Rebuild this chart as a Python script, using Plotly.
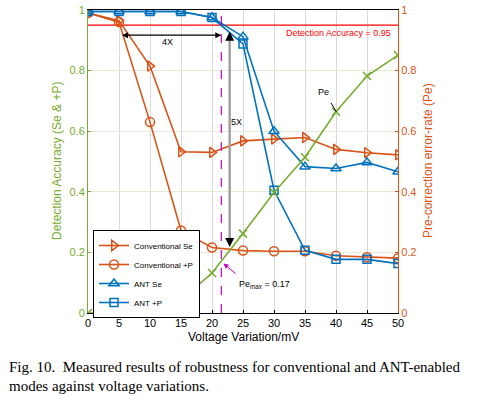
import plotly.graph_objects as go

voltage = [0, 5, 10, 15, 20, 25, 30, 35, 40, 45, 50]
conv_se = [0.99, 0.965, 0.815, 0.532, 0.530, 0.568, 0.574, 0.579, 0.540, 0.529, 0.522]
conv_p = [0.99, 0.96, 0.63, 0.272, 0.216, 0.206, 0.204, 0.204, 0.189, 0.184, 0.181]
ant_se = [0.995, 0.995, 0.995, 0.995, 0.975, 0.912, 0.600, 0.483, 0.477, 0.497, 0.466]
ant_p = [0.995, 0.995, 0.995, 0.995, 0.975, 0.888, 0.405, 0.207, 0.177, 0.177, 0.163]
pe = [0.0, 0.0, 0.005, 0.043, 0.132, 0.262, 0.398, 0.514, 0.664, 0.782, 0.851]

x_ticks = [0, 5, 10, 15, 20, 25, 30, 35, 40, 45, 50]
y_ticks = [0, 0.2, 0.4, 0.6, 0.8, 1]
y_ticklabels = ["0", "0.2", "0.4", "0.6", "0.8", "1"]

threshold = 0.95
dashed_x = 21.5
arrow_x = 22.85

BLUE = "#0072BD"
ORANGE = "#D95319"
GREEN = "#77AC30"
MAGENTA = "#BF00BF"

# plot area geometry in pixels
L, R, T, B = 88, 88, 10, 83
PW, PH = 486 - L - R, 396 - T - B


def px_x(px):
    return (px - L) / PW


def px_y(py):
    return (396 - B - py) / PH


fig = go.Figure()

fig.add_trace(go.Scatter(x=[0, 50], y=[threshold, threshold], mode="lines",
                         line=dict(color="#FF0000", width=1.2), showlegend=False, hoverinfo="skip"))

fig.add_trace(go.Scatter(x=voltage, y=conv_se, name="Conventional Se", mode="lines+markers",
                         line=dict(color=ORANGE, width=1.6),
                         marker=dict(symbol="triangle-right-open", size=9, color=ORANGE, line=dict(width=1.5))))
fig.add_trace(go.Scatter(x=voltage, y=conv_p, name="Conventional +P", mode="lines+markers",
                         line=dict(color=ORANGE, width=1.6),
                         marker=dict(symbol="circle-open", size=9, color=ORANGE, line=dict(width=1.5))))
fig.add_trace(go.Scatter(x=voltage, y=ant_se, name="ANT Se", mode="lines+markers",
                         line=dict(color=BLUE, width=1.6),
                         marker=dict(symbol="triangle-up-open", size=9, color=BLUE, line=dict(width=1.5))))
fig.add_trace(go.Scatter(x=voltage, y=ant_p, name="ANT +P", mode="lines+markers",
                         line=dict(color=BLUE, width=1.6),
                         marker=dict(symbol="square-open", size=8, color=BLUE, line=dict(width=1.5))))
fig.add_trace(go.Scatter(x=voltage, y=pe, name="Pe", mode="lines+markers", yaxis="y2",
                         line=dict(color=GREEN, width=1.6), showlegend=False,
                         marker=dict(symbol="x-thin-open", size=8, color=GREEN, line=dict(width=1.5, color=GREEN))))

# dashed vertical line
fig.add_shape(type="line", x0=dashed_x, x1=dashed_x, y0=0, y1=1, xref="x", yref="y",
              line=dict(color=MAGENTA, width=1.2, dash="dash"))
# gray 5X shaft
fig.add_shape(type="line", x0=arrow_x, x1=arrow_x, y0=0.24, y1=0.905, xref="x", yref="y",
              line=dict(color="#A0A0A0", width=2.5))

lab_font = dict(size=9, color="black", family="Liberation Sans")
ann = []
# 4X double arrow
ann.append(dict(x=dashed_x, y=0.917, ax=5, ay=0.917, xref="x", yref="y", axref="x", ayref="y",
                showarrow=True, arrowhead=2, arrowside="end+start", arrowsize=1, arrowwidth=1.2,
                arrowcolor="black", text=" "))
ann.append(dict(x=12.8, y=0.895, xref="x", yref="y", text="4X", showarrow=False, font=lab_font))
# 5X arrowheads
ann.append(dict(x=arrow_x, y=0.928, ax=arrow_x, ay=0.88, xref="x", yref="y", axref="x", ayref="y",
                showarrow=True, arrowhead=2, arrowsize=1.2, arrowwidth=1.5, arrowcolor="black", text=" "))
ann.append(dict(x=arrow_x, y=0.218, ax=arrow_x, ay=0.265, xref="x", yref="y", axref="x", ayref="y",
                showarrow=True, arrowhead=2, arrowsize=1.2, arrowwidth=1.5, arrowcolor="black", text=" "))
ann.append(dict(x=24.0, y=0.63, xref="x", yref="y", text="5X", showarrow=False, font=lab_font))
# Detection accuracy label
ann.append(dict(x=49.2, y=0.925, xref="x", yref="y", text="Detection Accuracy = 0.95", showarrow=False,
                xanchor="right", font=dict(size=9, color="#FF0000", family="Liberation Sans")))
# Pe label with line
ann.append(dict(x=40.05, y=0.664, ax=38.7, ay=0.71, xref="x", yref="y2", axref="x", ayref="y2",
                showarrow=True, arrowhead=0, arrowwidth=1, arrowcolor="black", text=" "))
ann.append(dict(x=38.0, y=0.73, xref="x", yref="y2", text="Pe", showarrow=False, font=lab_font))
# Pe_max arrow
ann.append(dict(x=21.85, y=0.163, ax=24.3, ay=0.122, xref="x", yref="y", axref="x", ayref="y",
                showarrow=True, arrowhead=2, arrowsize=1, arrowwidth=1, arrowcolor=MAGENTA, text=" "))
ann.append(dict(x=24.0, y=0.095, xref="x", yref="y", text="Pe<sub>max</sub> = 0.17", showarrow=False,
                xanchor="left", font=lab_font))
# axis titles
ann.append(dict(x=px_x(243), y=px_y(337), xref="paper", yref="paper", text="Voltage Variation/mV",
                xanchor="center", yanchor="middle",
                showarrow=False, font=dict(size=12, color="black", family="Liberation Sans")))
ann.append(dict(x=px_x(57), y=px_y(161), xref="paper", yref="paper", text="Detection Accuracy (Se & +P)",
                xanchor="center", yanchor="middle",
                showarrow=False, textangle=-90, font=dict(size=12, color=GREEN, family="Liberation Sans")))
ann.append(dict(x=px_x(428), y=px_y(161), xref="paper", yref="paper", text="Pre-correction error-rate (Pe)",
                xanchor="center", yanchor="middle",
                showarrow=False, textangle=-90, font=dict(size=12, color=ORANGE, family="Liberation Sans")))
# caption
cap_font = dict(size=15, color="black", family="Liberation Serif")
ann.append(dict(x=px_x(7), y=px_y(367), xref="paper", yref="paper",
                text="Fig. 10.  Measured results of robustness for conventional and ANT-enabled",
                showarrow=False, xanchor="left", yanchor="middle", font=cap_font))
ann.append(dict(x=px_x(7), y=px_y(386), xref="paper", yref="paper",
                text="modes against voltage variations.",
                showarrow=False, xanchor="left", yanchor="middle", font=cap_font))

fig.update_layout(
    width=486, height=396,
    margin=dict(l=L, r=R, t=T, b=B, autoexpand=False),
    paper_bgcolor="white", plot_bgcolor="white",
    font=dict(family="Liberation Sans", size=11, color="black"),
    annotations=ann,
    legend=dict(x=px_x(93), y=px_y(230), xanchor="left", yanchor="top",
                bgcolor="white", bordercolor="black", borderwidth=1,
                font=dict(size=8, family="Liberation Sans", color="black"),
                tracegroupgap=0, itemwidth=30),
    xaxis=dict(range=[0, 50], tickvals=x_ticks, showgrid=True, gridcolor="#DADADA", gridwidth=1,
               showline=True, linecolor="black", linewidth=1, mirror=True, automargin=False,
               ticks="inside", ticklen=3, tickcolor="black", zeroline=False,
               tickfont=dict(size=11, color="black")),
    yaxis=dict(range=[0, 1], tickvals=y_ticks, ticktext=y_ticklabels, showgrid=True, gridcolor="#E6EBD8",
               showline=True, linecolor=GREEN, linewidth=1, ticks="inside", ticklen=3, tickcolor=GREEN,
               zeroline=False, automargin=False, tickfont=dict(size=11, color=GREEN)),
    yaxis2=dict(range=[0, 1], tickvals=y_ticks, ticktext=y_ticklabels, overlaying="y", side="right",
                showgrid=False, showline=True, linecolor=ORANGE, linewidth=1, ticks="inside", ticklen=3,
                tickcolor=ORANGE, zeroline=False, automargin=False, tickfont=dict(size=11, color=ORANGE)),
)

fig.write_html("out.html", config={"displayModeBar": False},
               post_script="document.body.style.margin='0';document.body.style.overflow='hidden';")
